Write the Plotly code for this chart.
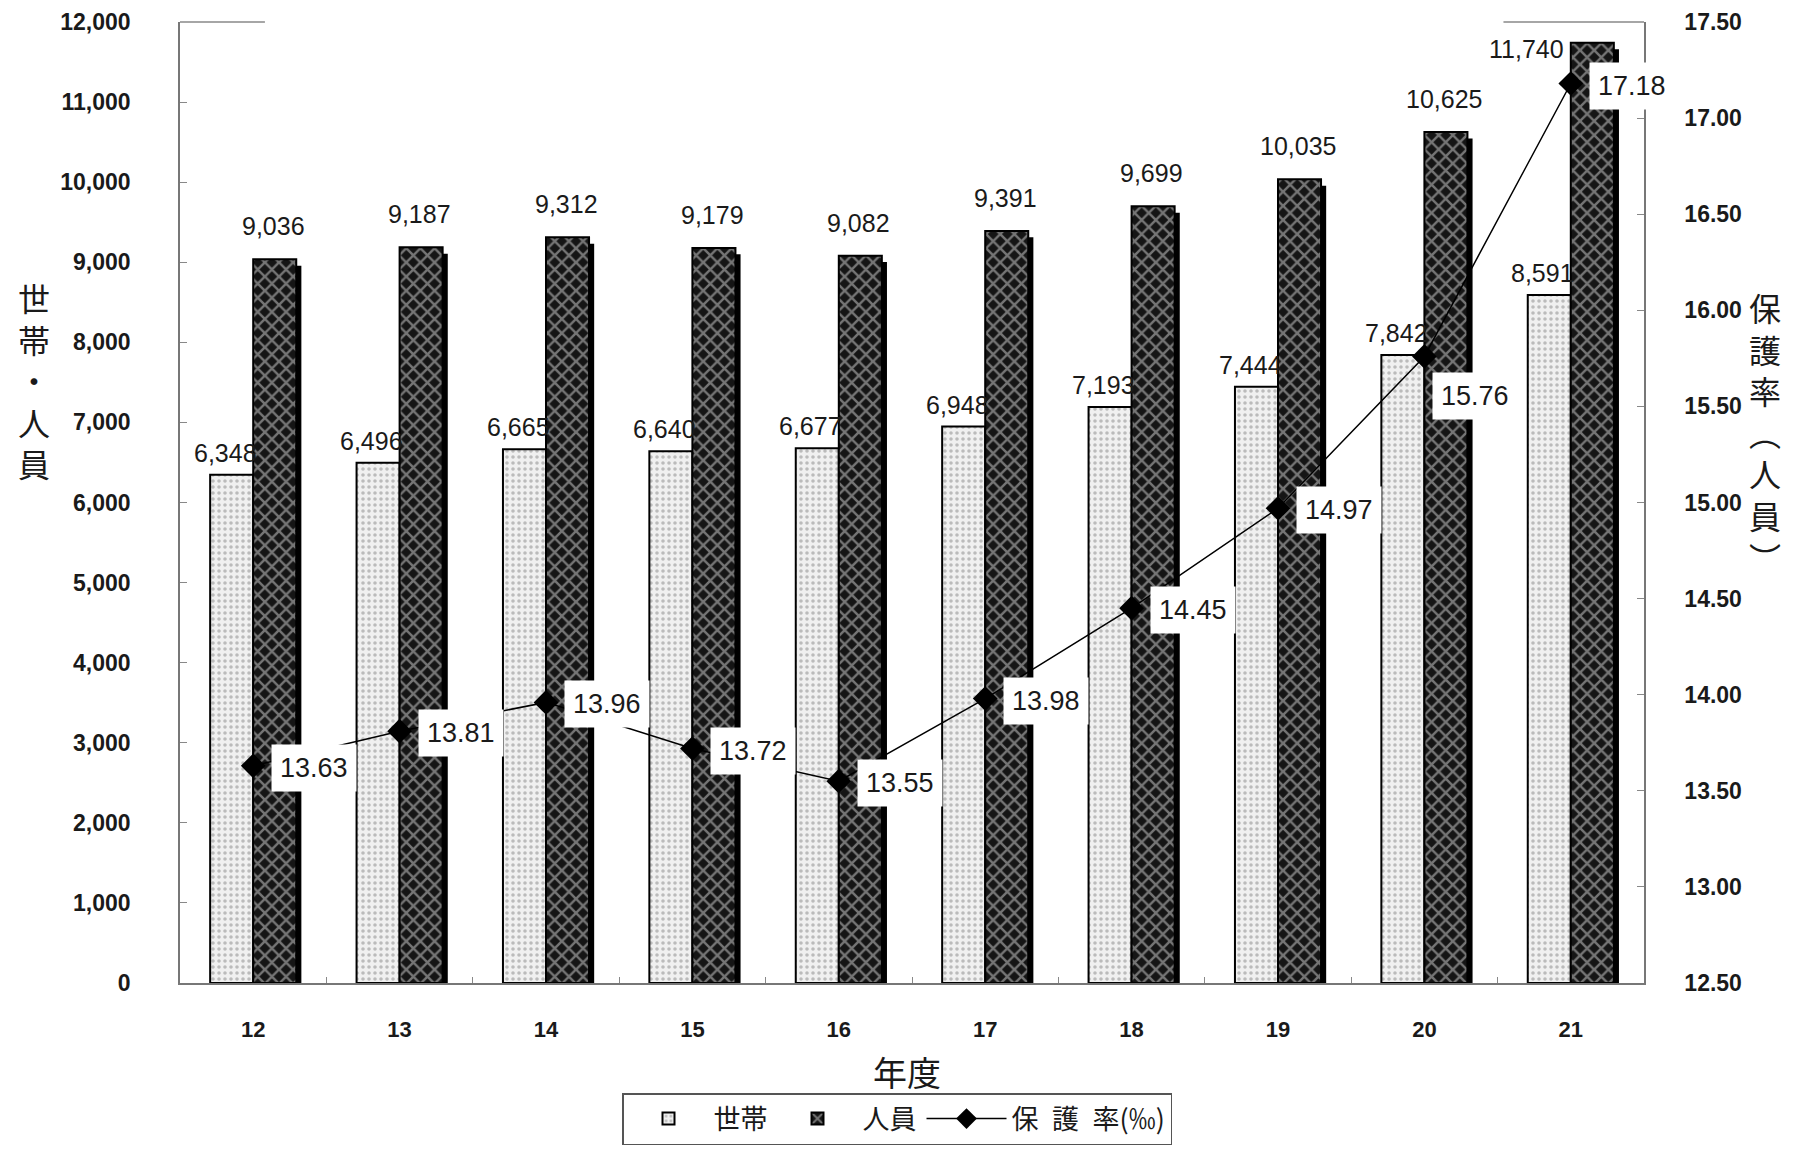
import plotly.graph_objects as go

years = ["12", "13", "14", "15", "16", "17", "18", "19", "20", "21"]
households = [6348, 6496, 6665, 6640, 6677, 6948, 7193, 7444, 7842, 8591]
persons = [9036, 9187, 9312, 9179, 9082, 9391, 9699, 10035, 10625, 11740]
rate = [13.63, 13.81, 13.96, 13.72, 13.55, 13.98, 14.45, 14.97, 15.76, 17.18]

LAT = "Liberation Sans, Arial, sans-serif"
CJK = "Noto Sans CJK JP, sans-serif"
BW = 0.294
TXT = "#1a1a1a"

L, R, T, B = 180, 156, 22, 166
W, H = 1800, 1149
pw, ph = W - L - R, H - T - B


def px2paper(xp, yp):
    return (xp - L) / pw, (H - B - yp) / ph


fig = go.Figure()

# shadow behind 人員 bars
fig.add_trace(go.Bar(
    x=years, y=persons, base=-80, offset=0.035, width=BW,
    marker=dict(color="black", line=dict(width=0)),
    showlegend=False, hoverinfo="skip", yaxis="y"))

fig.add_trace(go.Bar(
    x=years, y=households, name="世帯", offset=-BW, width=BW,
    marker=dict(color="#eeeeee",
                line=dict(color="black", width=2),
                pattern=dict(shape=".", fgcolor="#858585", bgcolor="#f0f0f0",
                             size=6, solidity=0.28)),
    yaxis="y"))

fig.add_trace(go.Bar(
    x=years, y=persons, name="人員", offset=0, width=BW,
    marker=dict(color="#333333",
                line=dict(color="black", width=2),
                pattern=dict(shape="x", fgcolor="#d6d6d6", bgcolor="#151515",
                             size=10, solidity=0.42)),
    yaxis="y"))

fig.add_trace(go.Scatter(
    x=years, y=rate, name="保\u2002護\u2002率(‰)", mode="lines+markers",
    line=dict(color="black", width=1.5),
    marker=dict(symbol="diamond", size=19, color="black"),
    yaxis="y2"))

annotations = []
for i in range(len(years)):
    annotations.append(dict(
        x=i, y=households[i], xref="x", yref="y",
        text=f"{households[i]:,}", showarrow=False,
        xshift=-28, yshift=22,
        font=dict(family=LAT, size=25, color=TXT)))
    # the tallest bar reaches the top of the plot, so its label sits to the left
    px_shift, py_shift = (-44, -6) if i == 9 else (20, 33)
    annotations.append(dict(
        x=i, y=persons[i], xref="x", yref="y",
        text=f"{persons[i]:,}", showarrow=False,
        xshift=px_shift, yshift=py_shift,
        font=dict(family=LAT, size=25, color=TXT)))
    ys = -40 if i == 8 else -2
    annotations.append(dict(
        x=i, y=rate[i], xref="x", yref="y2",
        text=f"{rate[i]:.2f}", showarrow=False,
        xanchor="left", xshift=18 if i != 8 else 8, yshift=ys,
        bgcolor="white", borderpad=8,
        font=dict(family=LAT, size=27, color=TXT)))

lx, ly = px2paper(34, 380)
annotations.append(dict(
    x=lx, y=ly, xref="paper", yref="paper", xanchor="center", yanchor="middle",
    text="世<br>帯<br>・<br>人<br>員",
    showarrow=False, font=dict(family=CJK, size=32, color=TXT)))

rx, ry = px2paper(1765, 432)
annotations.append(dict(
    x=rx, y=ry, xref="paper", yref="paper", xanchor="center", yanchor="middle",
    text="保<br>護<br>率<br>︵<br>人<br>員<br>︶",
    showarrow=False, font=dict(family=CJK, size=32, color=TXT)))

tx, ty = px2paper(907, 1071)
annotations.append(dict(
    x=tx, y=ty, xref="paper", yref="paper", xanchor="center", yanchor="middle",
    text="年度", showarrow=False,
    font=dict(family=CJK, size=34, color=TXT)))

lgx, lgy = px2paper(897, 1093)

fig.update_layout(
    annotations=annotations,
    width=W, height=H,
    margin=dict(l=L, r=R, t=T, b=B, autoexpand=False),
    paper_bgcolor="white", plot_bgcolor="white",
    barmode="overlay",
    showlegend=True,
    legend=dict(orientation="h", x=lgx, y=lgy, xanchor="center", yanchor="top",
                bordercolor="#555", borderwidth=1.5,
                font=dict(family=CJK, size=27, color=TXT),
                itemwidth=80, tracegroupgap=0),
    xaxis=dict(type="category", range=[-0.5, 9.5],
               showline=True, linecolor="#777", linewidth=1.5,
               ticks="inside", ticklen=6, tickcolor="#888", tickson="boundaries",
               ticklabelstandoff=26,
               tickfont=dict(family=LAT, size=22, color=TXT, weight="bold"),
               showgrid=False, zeroline=False),
    yaxis=dict(range=[0, 12000], dtick=1000, tickformat=",d",
               showline=True, linecolor="#777", linewidth=1.5,
               ticks="inside", ticklen=7, tickcolor="#888",
               ticklabelstandoff=43,
               tickfont=dict(family=LAT, size=23, color=TXT, weight="bold"),
               showgrid=False, zeroline=False),
    yaxis2=dict(range=[12.5, 17.5], dtick=0.5, tickformat=".2f",
                overlaying="y", side="right",
                showline=True, linecolor="#777", linewidth=1.5,
                ticks="inside", ticklen=7, tickcolor="#888",
                ticklabelstandoff=34,
                tickfont=dict(family=LAT, size=23, color=TXT, weight="bold"),
                showgrid=False, zeroline=False),
    shapes=[
        dict(type="line", xref="paper", yref="paper", x0=0, x1=0.058, y0=1, y1=1,
             line=dict(color="#888", width=1.5)),
        dict(type="line", xref="paper", yref="paper", x0=0.904, x1=1, y0=1, y1=1,
             line=dict(color="#888", width=1.5)),
    ],
)

fig.write_html("out.html")
